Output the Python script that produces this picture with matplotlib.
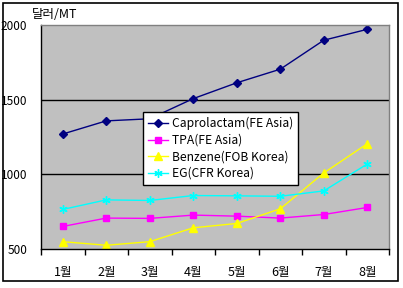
import matplotlib
matplotlib.use("Agg")
import matplotlib.pyplot as plt
from matplotlib.patches import Rectangle

plt.rcParams['font.family'] = ['Noto Sans CJK KR', 'DejaVu Sans']

months = ['1월', '2월', '3월', '4월', '5월', '6월', '7월', '8월']
caprolactam = [1270, 1358, 1372, 1507, 1613, 1704, 1898, 1971]
tpa = [651, 707, 705, 727, 720, 707, 731, 778]
benzene = [549, 525, 549, 642, 671, 769, 1009, 1205]
eg = [765, 829, 825, 858, 856, 853, 889, 1069]
series_names = ['Caprolactam(FE Asia)', 'TPA(FE Asia)', 'Benzene(FOB Korea)', 'EG(CFR Korea)']
yticks = [500, 1000, 1500, 2000]
unit_label = '달러/MT'

W, H = 403, 288
fig = plt.figure(figsize=(W / 100, H / 100), dpi=100)
fig.patch.set_facecolor('white')
fig.patches.append(Rectangle((3 / W, 1 - 281 / H), 395 / W, 278 / H, transform=fig.transFigure,
                             fill=False, edgecolor='black', linewidth=1.2))

ax = fig.add_axes([41 / W, 1 - 249 / H, 348 / W, 224 / H])
ax.set_facecolor('#C0C0C0')
x = list(range(len(months)))

ax.plot(x, caprolactam, color='#000080', marker='D', markersize=4.5, linewidth=1, label=series_names[0])
ax.plot(x, tpa, color='#FF00FF', marker='s', markersize=5, linewidth=1, label=series_names[1])
ax.plot(x, benzene, color='#FFFF00', marker='^', markersize=6, linewidth=1, label=series_names[2])
ax.plot(x, eg, color='#00FFFF', marker=(6, 2, 0), markersize=6, markeredgewidth=1, linewidth=1, label=series_names[3])

ax.set_xlim(-0.5, len(months) - 0.5)
ax.set_ylim(500, 2000)
ax.set_yticks(yticks)
ax.set_yticklabels([str(v) for v in yticks])
ax.set_xticks(x)
ax.set_xticklabels(months)
ax.set_xticks([i - 0.5 for i in range(len(months) + 1)], minor=True)
ax.tick_params(axis='x', which='major', length=0, pad=12, labelsize=9)
ax.tick_params(axis='x', which='minor', length=4, width=1, direction='out', color='black')
ax.tick_params(axis='y', length=0, pad=10, labelsize=8.5)
for v in yticks[1:-1]:
    ax.axhline(v, color='black', linewidth=1, zorder=1)
for s in ['left', 'bottom']:
    ax.spines[s].set_color('black')
    ax.spines[s].set_linewidth(1)
for s in ['top', 'right']:
    ax.spines[s].set_color('#808080')
    ax.spines[s].set_linewidth(1)

fig.text(32 / W, 1 - 14 / H, unit_label, fontsize=9, va='center', ha='left')

leg = ax.legend(loc='upper left', bbox_to_anchor=(143 / W, 1 - 112 / H), bbox_transform=fig.transFigure,
                fontsize=8.7, frameon=True, fancybox=False, edgecolor='black', framealpha=1,
                handlelength=1.7, handletextpad=0.3, borderpad=0.4, labelspacing=0.3,
                borderaxespad=0)
leg.get_frame().set_linewidth(1)

fig.savefig('out.png', dpi=100)
